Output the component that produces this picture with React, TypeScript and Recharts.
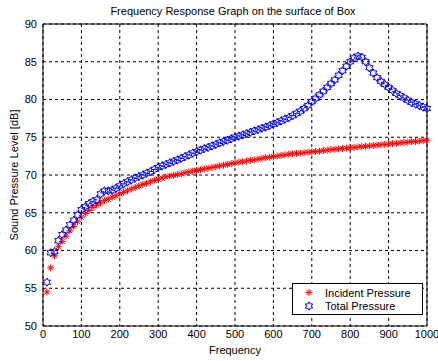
import { CartesianGrid, ReferenceLine, Scatter, ScatterChart, XAxis, YAxis } from 'recharts';

const freqs = [
  10, 20, 30, 40, 50, 60, 70, 80, 90, 100,
  110, 120, 130, 140, 150, 160, 170, 180, 190, 200,
  210, 220, 230, 240, 250, 260, 270, 280, 290, 300,
  310, 320, 330, 340, 350, 360, 370, 380, 390, 400,
  410, 420, 430, 440, 450, 460, 470, 480, 490, 500,
  510, 520, 530, 540, 550, 560, 570, 580, 590, 600,
  610, 620, 630, 640, 650, 660, 670, 680, 690, 700,
  710, 720, 730, 740, 750, 760, 770, 780, 790, 800,
  810, 820, 830, 840, 850, 860, 870, 880, 890, 900,
  910, 920, 930, 940, 950, 960, 970, 980, 990, 1000,
];

const incident = [
  54.5, 57.7, 59.3, 60.5, 61.2, 61.9, 62.6, 63.2, 63.8, 64.4,
  64.9, 65.3, 65.7, 66.0, 66.3, 66.6, 66.8, 67.05, 67.25, 67.5,
  67.7, 67.9, 68.15, 68.35, 68.55, 68.75, 68.9, 69.1, 69.3, 69.45,
  69.6, 69.75, 69.85, 69.95, 70.05, 70.15, 70.3, 70.4, 70.5, 70.6,
  70.7, 70.8, 70.9, 71.0, 71.1, 71.2, 71.3, 71.4, 71.5, 71.6,
  71.7, 71.75, 71.85, 71.95, 72.0, 72.1, 72.2, 72.3, 72.35, 72.45,
  72.5, 72.6, 72.65, 72.75, 72.8, 72.85, 72.9, 72.95, 73.0, 73.05,
  73.1, 73.15, 73.25, 73.3, 73.35, 73.4, 73.45, 73.5, 73.55, 73.6,
  73.65, 73.7, 73.75, 73.8, 73.85, 73.9, 73.95, 74.0, 74.05, 74.1,
  74.15, 74.2, 74.25, 74.3, 74.35, 74.4, 74.45, 74.5, 74.55, 74.6,
];

const total = [
  55.8, 59.7, 59.85, 61.3, 62.1, 62.7, 63.4, 64.0, 64.7, 65.4,
  65.8, 66.2, 66.5, 66.7, 67.5, 67.9, 67.9, 68.0, 68.25, 68.55,
  68.85, 69.1, 69.35, 69.6, 69.8, 70.0, 70.25, 70.45, 70.75, 71.0,
  71.2, 71.4, 71.6, 71.8, 72.0, 72.2, 72.45, 72.65, 72.9, 73.1,
  73.3, 73.5, 73.65, 73.85, 74.05, 74.25, 74.45, 74.6, 74.8, 75.0,
  75.15, 75.3, 75.5, 75.65, 75.85, 76.0, 76.2, 76.35, 76.55, 76.75,
  76.95, 77.15, 77.4, 77.6, 77.85, 78.15, 78.45, 78.8, 79.2, 79.7,
  80.15, 80.6, 81.1, 81.6, 82.1, 82.6, 83.2, 83.8, 84.4, 85.0,
  85.5, 85.75, 85.6, 85.0, 84.2, 83.5, 82.9, 82.4, 82.0, 81.6,
  81.2, 80.8, 80.5, 80.2, 79.9, 79.6, 79.4, 79.2, 79.0, 78.8,
];

const xTicks = [0, 100, 200, 300, 400, 500, 600, 700, 800, 900, 1000];
const yTicks = [50, 55, 60, 65, 70, 75, 80, 85, 90];

const font = '"Liberation Sans", Arial, sans-serif';
const axisTick = { fill: '#000', fontSize: 11, fontFamily: font };

const incidentData = freqs.map((f, i) => ({ f, v: incident[i] }));
const totalData = freqs.map((f, i) => ({ f, v: total[i] }));

function Asterisk({ cx, cy }: { cx?: number; cy?: number }) {
  if (cx == null || cy == null) return null;
  const r = 3.5;
  const d = 2.5;
  return (
    <g stroke="#ff0000" strokeWidth={1}>
      <line x1={cx - r} y1={cy} x2={cx + r} y2={cy} />
      <line x1={cx} y1={cy - r} x2={cx} y2={cy + r} />
      <line x1={cx - d} y1={cy - d} x2={cx + d} y2={cy + d} />
      <line x1={cx - d} y1={cy + d} x2={cx + d} y2={cy - d} />
    </g>
  );
}

function Hexagram({ cx, cy }: { cx?: number; cy?: number }) {
  if (cx == null || cy == null) return null;
  const R = 4.2;
  const pts: string[] = [];
  for (let k = 0; k < 12; k++) {
    const a = ((-90 + k * 30) * Math.PI) / 180;
    const rr = k % 2 === 0 ? R : R / Math.sqrt(3);
    pts.push(`${cx + rr * Math.cos(a)},${cy + rr * Math.sin(a)}`);
  }
  return <polygon points={pts.join(' ')} fill="none" stroke="#0000ff" strokeWidth={1} />;
}

// legend drawn as a plain box over the chart so it doesn't eat plot height
function LegendBox() {
  return (
    <div
      style={{
        position: 'absolute',
        left: 292,
        top: 283,
        width: 131,
        height: 32,
        border: '1px solid #000',
        background: '#fff',
        boxSizing: 'border-box',
      }}
    >
      <svg width={131} height={32} style={{ position: 'absolute', left: -1, top: -1 }}>
        <Asterisk cx={17} cy={9.5} />
        <Hexagram cx={17} cy={23} />
        <text x={33} y={13.5} fontSize={11} fontFamily={font} fill="#000">Incident Pressure</text>
        <text x={33} y={27} fontSize={11} fontFamily={font} fill="#000">Total Pressure</text>
      </svg>
    </div>
  );
}

export default function App() {
  return (
    <div style={{ position: 'absolute', left: 0, top: 0, width: 438, height: 361, background: '#fff' }}>
      <div
        style={{
          position: 'absolute',
          left: 0,
          width: 466,
          top: 4,
          textAlign: 'center',
          fontFamily: font,
          fontSize: 11,
          lineHeight: '14px',
          color: '#000',
        }}
      >
        Frequency Response Graph on the surface of Box
      </div>
      <ScatterChart width={438} height={361} margin={{ top: 24, right: 11, bottom: 0, left: 0 }}>
        <CartesianGrid stroke="#000" strokeDasharray="3 3" />
        <XAxis
          type="number"
          dataKey="f"
          domain={[0, 1000]}
          ticks={xTicks}
          interval={0}
          height={35}
          tick={axisTick}
          tickLine={false}
          tickSize={2}
          tickMargin={2}
          axisLine={{ stroke: '#000' }}
          label={{ value: 'Frequency', position: 'insideBottom', offset: 7, fill: '#000', fontSize: 11, fontFamily: font }}
        />
        <YAxis
          type="number"
          dataKey="v"
          domain={[50, 90]}
          ticks={yTicks}
          interval={0}
          width={43}
          tick={axisTick}
          tickLine={false}
          tickSize={4}
          tickMargin={2}
          axisLine={{ stroke: '#000' }}
          label={{
            value: 'Sound Pressure Level [dB]',
            angle: -90,
            position: 'insideLeft',
            offset: 14,
            fill: '#000',
            fontSize: 11,
            fontFamily: font,
            style: { textAnchor: 'middle' },
          }}
        />
        <ReferenceLine y={90} stroke="#000" />
        <ReferenceLine x={1000} stroke="#000" />
        <Scatter name="Incident Pressure" data={incidentData} shape={(p: any) => <Asterisk cx={p.cx} cy={p.cy} />} isAnimationActive={false} />
        <Scatter name="Total Pressure" data={totalData} shape={(p: any) => <Hexagram cx={p.cx} cy={p.cy} />} isAnimationActive={false} />
      </ScatterChart>
      <LegendBox />
    </div>
  );
}
